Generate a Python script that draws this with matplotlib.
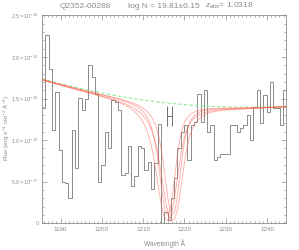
import numpy as np
import matplotlib
matplotlib.use('Agg')
import matplotlib.pyplot as plt
from matplotlib.ticker import MultipleLocator

# binned spectrum, wavelength (A) of bin centres and flux in units of 1e-16
wave = [1185.9, 1186.7, 1187.5, 1188.3, 1189.1, 1189.9, 1190.7, 1191.5, 1192.3, 1193.1,
        1193.9, 1194.7, 1195.5, 1196.3, 1197.1, 1197.9, 1198.7, 1199.5, 1200.3, 1201.1,
        1201.9, 1202.7, 1203.5, 1204.3, 1205.1, 1205.9, 1206.7, 1207.5, 1208.3, 1209.1,
        1209.9, 1210.7, 1211.5, 1212.3, 1213.1, 1213.9, 1214.7, 1215.5, 1216.3, 1217.1,
        1217.9, 1218.7, 1219.5, 1220.3, 1221.1, 1221.9, 1222.7, 1223.5, 1224.3, 1225.1,
        1225.9, 1226.7, 1227.5, 1228.3, 1229.1, 1229.9, 1230.7, 1231.5, 1232.3, 1233.1,
        1233.9, 1234.7, 1235.5, 1236.3, 1237.1, 1237.9, 1238.7, 1239.5, 1240.3, 1241.1,
        1241.9, 1242.7, 1243.5, 1244.3]
flux = [1.39, 2.26, 1.85, 1.12, 1.58, 0.88, 0.50, 0.48, 0.30, 1.12,
        0.67, 1.51, 1.36, 1.50, 1.90, 1.76, 1.56, 0.50, 0.70, 1.10,
        0.91, 1.48, 1.46, 1.36, 0.58, 0.61, 0.93, 0.45, 0.57, 0.93,
        0.91, 0.64, 0.74, 0.41, 0.72, 1.19, -0.05, 0.14, 0.04, 0.30,
        0.54, 0.90, 1.10, 1.18, 0.76, 1.18, 1.22, 1.55, 1.22, 1.60,
        1.10, 1.18, 0.76, 0.80, 0.83, 0.83, 0.83, 1.18, 1.18, 1.10,
        1.14, 1.18, 1.30, 1.00, 1.40, 1.60, 1.20, 1.54, 1.34, 1.70,
        1.38, 1.38, 1.18, 1.60]
bin_width = 0.8

# fit parameters
qso = 'Q2352-00288'
log_n = 19.81
log_n_err = 0.15
z_abs = 1.0318
line_center = 1216.7     # where the fit bottoms out on this plot
center_err = 0.6
wing_blue = 1.8          # drawn wings are stronger than a bare lorentzian
wing_red = 1.1
lsf_sigma = 0.9          # instrumental smoothing (A)
errbar_x = 1216.3
errbar_y = 1.29

# continuum (quadratic)
cont_floor = 1.395
cont_turn = 1235.0
cont_curv = 1.39e-4

scale = 1e-16
xmin, xmax = 1185.5, 1244.6

gray = '#8c8c8c'
plt.rcParams['font.family'] = 'Liberation Sans'
plt.rcParams['mathtext.fontset'] = 'custom'
plt.rcParams['mathtext.rm'] = 'Liberation Sans'
plt.rcParams['mathtext.it'] = 'Liberation Sans:italic'

fig = plt.figure(figsize=(2.99, 2.5), dpi=100)
ax = fig.add_axes([0.1405, 0.1068, 0.816, 0.832])

lam = np.linspace(xmin - 6, xmax + 6, 2400)
dl = lam[1] - lam[0]
kx = np.arange(-5 * lsf_sigma, 5 * lsf_sigma + dl, dl)
kern = np.exp(-0.5 * (kx / lsf_sigma) ** 2)
kern /= kern.sum()
cont = cont_floor + cont_curv * (lam - cont_turn) ** 2
ax.plot(lam, cont * scale, color='#8fe88f', lw=0.8, dashes=(3, 2), zorder=2)

# damped Lya profiles for logN +/- err and centre +/- err
for dn in (-log_n_err, log_n_err):
    for dc in (-center_err, center_err):
        d = lam - line_center - dc
        k = 4.26e-20 * 10 ** (log_n + dn) * np.where(d < 0, wing_blue, wing_red)
        with np.errstate(divide='ignore'):
            tau = k / d ** 2
        depth = np.convolve(1 - np.exp(-tau), kern, mode='same')
        ax.plot(lam, cont * (1 - depth) * scale, color='#ff5a48', lw=0.7,
                alpha=0.45, zorder=3)

edges = np.append(np.array(wave) - bin_width / 2, wave[-1] + bin_width / 2)
ax.stairs(np.array(flux) * scale, edges, baseline=None, color=gray, lw=0.7, zorder=1)

ax.errorbar(errbar_x, errbar_y * scale, xerr=center_err, color='#707070',
            lw=0.7, capsize=7.5, capthick=0.7, zorder=4)

ax.set_xlim(xmin, xmax)
ax.set_ylim(0, 2.5e-16)

yt = [0, 5e-17, 1e-16, 1.5e-16, 2e-16, 2.5e-16]
ylab = ['0', r'$5.0\times10^{-17}$', r'$1.0\times10^{-16}$', r'$1.5\times10^{-16}$',
        r'$2.0\times10^{-16}$', r'$2.5\times10^{-16}$']
ax.set_yticks(yt)
ax.set_yticklabels(ylab, fontsize=4.0, color=gray)
ax.set_xticks([1190, 1200, 1210, 1220, 1230, 1240])
ax.tick_params(axis='x', labelsize=4.5, labelcolor=gray)
ax.xaxis.set_minor_locator(MultipleLocator(1))
ax.yaxis.set_minor_locator(MultipleLocator(1e-17))
ax.tick_params(which='both', direction='in', top=True, right=True, color=gray, width=0.5)
ax.tick_params(which='major', length=3.5, pad=2.5)
ax.tick_params(which='minor', length=1.6)
for s in ax.spines.values():
    s.set_color(gray)
    s.set_linewidth(0.6)

ax.set_xlabel('Wavelength Å', fontsize=4.8, color=gray)
ax.xaxis.set_label_coords(0.5, -0.075)
ax.set_ylabel(r'Flux (erg s$^{-1}$ cm$^{-2}$ Å$^{-1}$)', fontsize=4.6, color=gray)
ax.yaxis.set_label_coords(-0.125, 0.456)

fig.text(0.200, 0.976, qso, fontsize=6, color=gray, ha='left', va='center')
fig.text(0.428, 0.976, 'log N = %.2f±%.2f' % (log_n, log_n_err), fontsize=6,
         color=gray, ha='left', va='center')
fig.text(0.686, 0.976, r'$z_{\rm abs}$= %.4f' % z_abs, fontsize=6, color=gray,
         ha='left', va='center')

fig.savefig('out.png', dpi=100)
